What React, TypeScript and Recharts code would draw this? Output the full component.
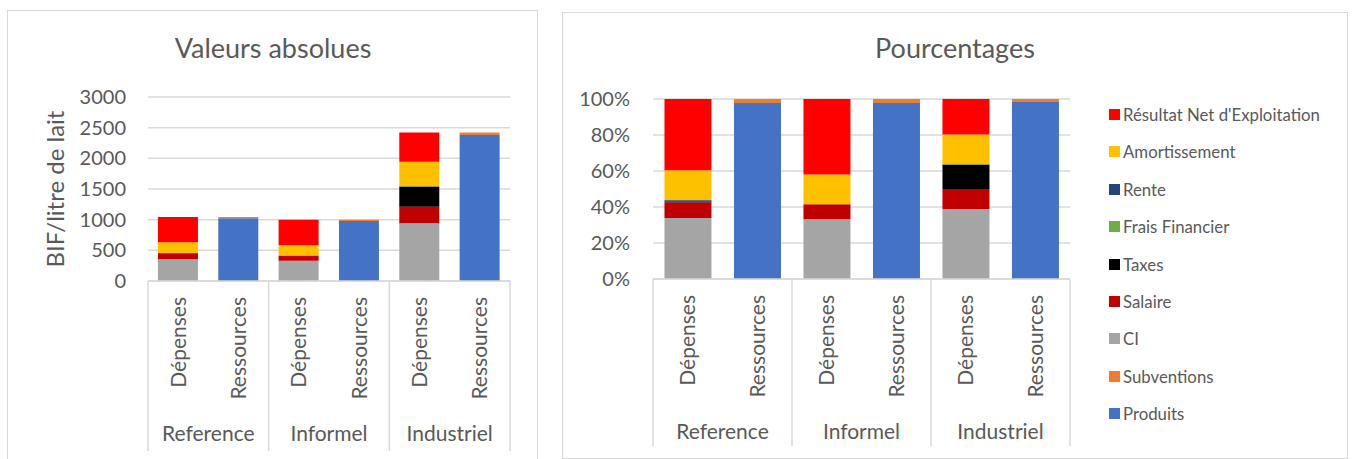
import { BarChart, Bar, XAxis, YAxis, CartesianGrid } from "recharts";

// Groupes et postes de la comptabilité (par litre de lait)
const groups = ["Reference", "Informel", "Industriel"];
const sides = ["Dépenses", "Ressources"];

const produits = [0, 1022, 0, 978, 0, 2379];
const subventions = [0, 23, 0, 22, 0, 41];
const ci = [353, 0, 332, 0, 941, 0];
const salaire = [92, 0, 83, 0, 269, 0];
const taxes = [6, 0, 0, 0, 331, 0];
const fraisFinancier = [2, 0, 0, 0, 3, 0];
const rente = [5, 0, 0, 0, 0, 0];
const amortissement = [172, 0, 166, 0, 402, 0];
const resultatNet = [413, 0, 419, 0, 477, 0];

const absTicks = [0, 500, 1000, 1500, 2000, 2500, 3000];
const pctTicks = [0, 0.2, 0.4, 0.6, 0.8, 1];

// ordre d'empilement, du bas vers le haut
const series = [
  { key: "produits", name: "Produits", color: "#4472C4", values: produits },
  { key: "subventions", name: "Subventions", color: "#ED7D31", values: subventions },
  { key: "ci", name: "CI", color: "#A5A5A5", values: ci },
  { key: "salaire", name: "Salaire", color: "#C00000", values: salaire },
  { key: "taxes", name: "Taxes", color: "#000000", values: taxes },
  { key: "frais", name: "Frais Financier", color: "#70AD47", values: fraisFinancier },
  { key: "rente", name: "Rente", color: "#264478", values: rente },
  { key: "amort", name: "Amortissement", color: "#FFC000", values: amortissement },
  { key: "rne", name: "Résultat Net d'Exploitation", color: "#FF0000", values: resultatNet },
];

const rows = groups.flatMap((g, gi) =>
  sides.map((s, si) => {
    const i = gi * sides.length + si;
    const row: Record<string, string | number> = { key: `${g}-${s}`, group: g, side: s };
    series.forEach((se) => {
      row[se.key] = se.values[i];
    });
    return row;
  })
);

const FONT = "Lato, 'Noto Sans', sans-serif";
const TEXT = "#595959";
const GRID = "#D9D9D9";

function CategoryTick(props: any) {
  const { x, y, index, step, sepLen } = props;
  const row = rows[index];
  if (!row) return null;
  const ty = y + 16;
  return (
    <g>
      <text
        x={x}
        y={ty}
        transform={`rotate(-90, ${x}, ${ty})`}
        textAnchor="end"
        dy="0.35em"
        fill={TEXT}
        fontSize={21}
        fontFamily={FONT}
      >
        {row.side}
      </text>
      {index % 2 === 0 && (
        <>
          <line x1={x - step / 2} x2={x - step / 2} y1={y} y2={y + sepLen} stroke={GRID} strokeWidth={1.5} />
          <text
            x={x + step / 2}
            y={y + 153}
            textAnchor="middle"
            dy="0.35em"
            fill={TEXT}
            fontSize={21}
            fontFamily={FONT}
          >
            {row.group}
          </text>
        </>
      )}
      {index === rows.length - 1 && (
        <line x1={x + step / 2} x2={x + step / 2} y1={y} y2={y + sepLen} stroke={GRID} strokeWidth={1.5} />
      )}
    </g>
  );
}

const titleStyle = (cx: number): React.CSSProperties => ({
  position: "absolute",
  left: cx - 150,
  width: 300,
  top: 31,
  textAlign: "center",
  fontFamily: FONT,
  fontSize: 27,
  color: TEXT,
});

export default function App() {
  const leftStep = (510 - 148) / rows.length;
  const rightStep = (510 - 93) / rows.length;
  const legendItems = [...series].reverse();

  return (
    <div style={{ position: "absolute", left: 0, top: 0, width: 1352, height: 459, overflow: "hidden", background: "#fff" }}>
      {/* cadres */}
      <div style={{ position: "absolute", left: 7, top: 10, width: 529, height: 470, border: `1px solid ${GRID}` }} />
      <div style={{ position: "absolute", left: 562, top: 12, width: 784, height: 445, border: `1px solid ${GRID}` }} />

      <div style={titleStyle(273)}>Valeurs absolues</div>
      <div style={titleStyle(955)}>Pourcentages</div>

      <div style={{ position: "absolute", left: 0, top: 0 }}>
        <BarChart
          width={540}
          height={459}
          data={rows}
          margin={{ top: 97, right: 30, bottom: 8, left: 88 }}
          barCategoryGap="16.5%"
        >
          <CartesianGrid vertical={false} stroke={GRID} strokeWidth={1.5} />
          <XAxis
            dataKey="key"
            height={170}
            interval={0}
            tickSize={0}
            tickMargin={0}
            axisLine={{ stroke: GRID, strokeWidth: 1.5 }}
            tick={(p: any) => <CategoryTick {...p} step={leftStep} sepLen={170} />}
          />
          <YAxis
            width={60}
            domain={[0, 3000]}
            ticks={absTicks}
            axisLine={false}
            tickLine={false}
            tickSize={0}
            tickMargin={22}
            tick={{ fill: TEXT, fontSize: 20, fontFamily: FONT }}
            label={(lp: any) => {
              const vb = lp.viewBox || { y: 97, height: 184 };
              const cy = vb.y + vb.height / 2;
              return (
                <text
                  x={56}
                  y={cy}
                  transform={`rotate(-90, 56, ${cy})`}
                  textAnchor="middle"
                  dy="0.35em"
                  fill={TEXT}
                  fontSize={24}
                  fontFamily={FONT}
                >
                  BIF/litre de lait
                </text>
              );
            }}
          />
          {series.map((s) => (
            <Bar key={s.key} dataKey={s.key} name={s.name} stackId="a" fill={s.color} isAnimationActive={false} />
          ))}
        </BarChart>
      </div>

      <div style={{ position: "absolute", left: 560, top: 0 }}>
        <BarChart
          width={520}
          height={459}
          data={rows}
          stackOffset="expand"
          margin={{ top: 99, right: 10, bottom: 8, left: 33 }}
          barCategoryGap="16.5%"
        >
          <CartesianGrid vertical={false} stroke={GRID} strokeWidth={1.5} />
          <XAxis
            dataKey="key"
            height={172}
            interval={0}
            tickSize={0}
            tickMargin={0}
            axisLine={{ stroke: GRID, strokeWidth: 1.5 }}
            tick={(p: any) => <CategoryTick {...p} step={rightStep} sepLen={167} />}
          />
          <YAxis
            width={60}
            domain={[0, 1]}
            ticks={pctTicks}
            axisLine={false}
            tickLine={false}
            tickSize={0}
            tickMargin={23}
            tickFormatter={(v: number) => `${Math.round(v * 100)}%`}
            tick={{ fill: TEXT, fontSize: 20, fontFamily: FONT }}
          />
          {series.map((s) => (
            <Bar key={s.key} dataKey={s.key} name={s.name} stackId="a" fill={s.color} isAnimationActive={false} />
          ))}
        </BarChart>
      </div>

      {/* légende */}
      <div style={{ position: "absolute", left: 1109, top: 95.6 }}>
        {legendItems.map((s) => (
          <div
            key={s.key}
            style={{ display: "flex", alignItems: "center", height: 37.45, fontFamily: FONT, fontSize: 16.8, color: TEXT, whiteSpace: "nowrap" }}
          >
            <span style={{ display: "inline-block", width: 11, height: 11, background: s.color, marginRight: 3 }} />
            {s.name}
          </div>
        ))}
      </div>
    </div>
  );
}
